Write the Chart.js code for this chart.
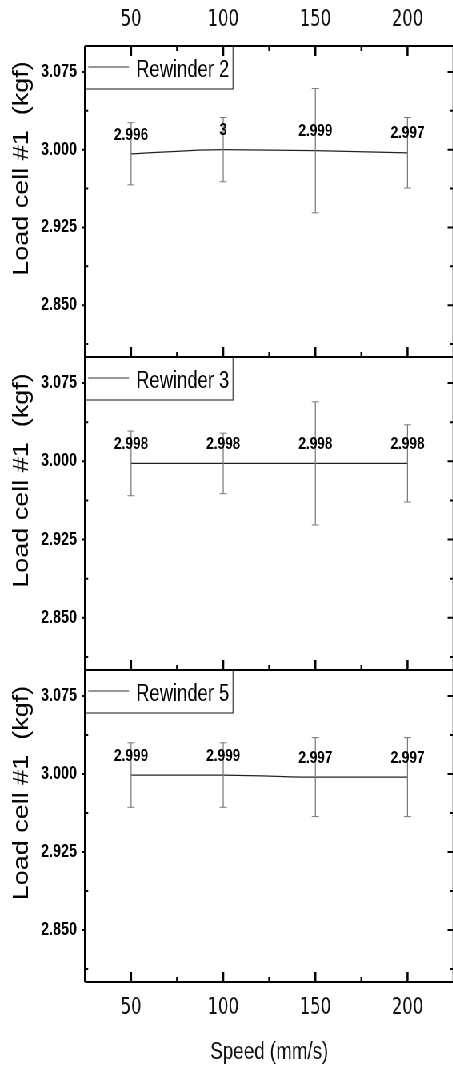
<!DOCTYPE html>
<html>
<head>
<meta charset="utf-8">
<title>Load cell #1 vs speed</title>
<script src="https://cdn.jsdelivr.net/npm/chart.js@4.4.1/dist/chart.umd.min.js"></script>
<style>
  html, body { margin: 0; padding: 0; background: #fff; overflow: hidden; }
  body { width: 453px; height: 1073px; position: relative; }
  /* figure is laid out wide and squeezed horizontally */
  #figure { position: absolute; left: 0; top: 0; width: 572px; height: 1073px; transform: scaleX(0.8); transform-origin: 0 0; }
  .panel { position: absolute; left: 0; width: 572px; }
</style>
</head>
<body>
<div id="figure">
  <div class="panel" style="top:0;height:362px"><canvas id="panel1"></canvas></div>
  <div class="panel" style="top:350px;height:325px"><canvas id="panel2"></canvas></div>
  <div class="panel" style="top:663px;height:410px"><canvas id="panel3"></canvas></div>
</div>
<script>
const speeds = [50, 100, 150, 200];

const rewinder2 = [2.996, 3, 2.999, 2.997];
const rewinder2Err = [0.030, 0.031, 0.060, 0.034];
const rewinder3 = [2.998, 2.998, 2.998, 2.998];
const rewinder3Err = [0.031, 0.029, 0.059, 0.037];
const rewinder5 = [2.999, 2.999, 2.997, 2.997];
const rewinder5Err = [0.031, 0.031, 0.038, 0.038];

const xTicks = [50, 100, 150, 200];
const xMinorTicks = [75, 125, 175];
const yTicks = [2.85, 2.925, 3.0, 3.075];
const yMinorTicks = [2.8125, 2.8875, 2.9625, 3.0375];

const yTitle = "Load cell #1  (kgf)";
const xTitle = "Speed (mm/s)";

const SANS = "'Liberation Sans', Arial, sans-serif";
const NARROW = "'Liberation Sans Narrow', 'DejaVu Sans Condensed', 'Liberation Sans', sans-serif";
Chart.defaults.font.family = SANS;

// error bars, value labels, frame, inward ticks, legend box and y title
const panelDecor = {
    id: "panelDecor",
    afterDatasetsDraw(chart, args, opts) {
        const { ctx } = chart;
        const x = chart.scales.x, y = chart.scales.y;
        const points = chart.data.datasets[0].data;

        ctx.save();
        ctx.strokeStyle = "#7a7a7a";
        points.forEach((pt, i) => {
            const px = x.getPixelForValue(pt.x);
            const top = y.getPixelForValue(pt.y + opts.errors[i]);
            const bot = y.getPixelForValue(pt.y - opts.errors[i]);
            ctx.lineWidth = 1.25;
            ctx.beginPath();
            ctx.moveTo(px, top);
            ctx.lineTo(px, bot);
            ctx.stroke();
            ctx.lineWidth = 1;
            ctx.beginPath();
            ctx.moveTo(px - 4.5, top); ctx.lineTo(px + 4.5, top);
            ctx.moveTo(px - 4.5, bot); ctx.lineTo(px + 4.5, bot);
            ctx.stroke();
        });

        ctx.fillStyle = "#000";
        ctx.font = "bold 17px " + SANS;
        ctx.textAlign = "center";
        ctx.textBaseline = "middle";
        points.forEach(pt => {
            ctx.fillText(String(pt.y), x.getPixelForValue(pt.x), y.getPixelForValue(pt.y) - 19);
        });
        ctx.restore();
    },
    afterDraw(chart, args, opts) {
        const { ctx, chartArea: a } = chart;
        const x = chart.scales.x, y = chart.scales.y;

        ctx.save();

        // legend
        ctx.fillStyle = "#fff";
        ctx.fillRect(a.left, a.top, 185, 43);
        ctx.strokeStyle = "#444";
        ctx.lineWidth = 1.25;
        ctx.strokeRect(a.left, a.top, 185, 43);
        ctx.strokeStyle = "#333";
        ctx.lineWidth = 1;
        ctx.beginPath();
        ctx.moveTo(a.left + 4, a.top + 21);
        ctx.lineTo(a.left + 55, a.top + 21);
        ctx.stroke();
        ctx.fillStyle = "#000";
        ctx.font = "23px " + SANS;
        ctx.textAlign = "left";
        ctx.textBaseline = "alphabetic";
        ctx.fillText(chart.data.datasets[0].label, a.left + 64, a.top + 31);

        // frame
        ctx.strokeStyle = "#000";
        ctx.lineWidth = 2;
        ctx.beginPath();
        ctx.moveTo(a.left, a.top); ctx.lineTo(a.right, a.top);
        ctx.moveTo(a.left, a.bottom); ctx.lineTo(a.right, a.bottom);
        ctx.stroke();
        ctx.lineWidth = 2.5;
        ctx.beginPath();
        ctx.moveTo(a.left, a.top); ctx.lineTo(a.left, a.bottom);
        ctx.moveTo(a.right, a.top); ctx.lineTo(a.right, a.bottom);
        ctx.stroke();

        // x ticks, pointing in
        ctx.beginPath();
        xTicks.forEach(v => {
            const px = x.getPixelForValue(v);
            ctx.moveTo(px, a.bottom); ctx.lineTo(px, a.bottom - 10);
            if (opts.topTicks) { ctx.moveTo(px, a.top); ctx.lineTo(px, a.top + 10); }
        });
        xMinorTicks.forEach(v => {
            const px = x.getPixelForValue(v);
            ctx.moveTo(px, a.bottom); ctx.lineTo(px, a.bottom - 5);
            if (opts.topTicks) { ctx.moveTo(px, a.top); ctx.lineTo(px, a.top + 5); }
        });
        ctx.stroke();

        // y ticks
        ctx.lineWidth = 2;
        ctx.beginPath();
        yTicks.forEach(v => {
            const py = y.getPixelForValue(v);
            ctx.moveTo(a.right, py); ctx.lineTo(a.right - 7.5, py);
            ctx.moveTo(a.left, py); ctx.lineTo(a.left - 4, py);
        });
        yMinorTicks.forEach(v => {
            const py = y.getPixelForValue(v);
            ctx.moveTo(a.right, py); ctx.lineTo(a.right - 4, py);
            ctx.moveTo(a.left, py); ctx.lineTo(a.left + 4, py);
        });
        ctx.stroke();

        // y axis title
        ctx.translate(28, (a.top + a.bottom) / 2 - 33);
        ctx.rotate(-Math.PI / 2);
        ctx.fillStyle = "#000";
        ctx.font = "27px " + SANS;
        ctx.textAlign = "center";
        ctx.textBaseline = "middle";
        ctx.fillText(yTitle, 0, 0);

        ctx.restore();
    }
};

function buildPanel(canvasId, name, values, errors, opts) {
    const points = speeds.map((s, i) => ({ x: s, y: values[i] }));

    const xScale = {
        type: "linear",
        position: opts.xPosition,
        display: opts.showX,
        min: 25,
        max: 225,
        afterBuildTicks: scale => { scale.ticks = xTicks.map(v => ({ value: v })); },
        afterFit: scale => {
            if (opts.xHeight) scale.height = opts.xHeight;
            scale.paddingLeft = 0;
            scale.paddingRight = 0;
            scale.paddingTop = 0;
            scale.paddingBottom = 0;
        },
        grid: { display: false, drawTicks: false },
        border: { display: false },
        ticks: {
            color: "#111",
            font: { family: NARROW, size: 23 },
            padding: 12,
            autoSkip: false,
            maxRotation: 0,
            callback: v => String(v)
        },
        title: {
            display: opts.showXTitle,
            text: xTitle,
            color: "#111",
            font: { family: SANS, size: 23.5 },
            padding: { top: 0, bottom: 6 }
        }
    };

    return new Chart(document.getElementById(canvasId), {
        type: "line",
        data: {
            datasets: [{
                label: name,
                data: points,
                borderColor: "#222",
                borderWidth: 1.2,
                pointRadius: 0,
                cubicInterpolationMode: "monotone",
                fill: false
            }]
        },
        options: {
            responsive: true,
            maintainAspectRatio: false,
            animation: false,
            layout: { autoPadding: false, padding: opts.padding },
            plugins: {
                legend: { display: false },
                tooltip: { enabled: false },
                panelDecor: { errors: errors, topTicks: opts.topTicks }
            },
            scales: {
                x: xScale,
                y: {
                    type: "linear",
                    position: "left",
                    min: 2.8,
                    max: 3.1,
                    afterBuildTicks: scale => { scale.ticks = yTicks.map(v => ({ value: v })); },
                    afterFit: scale => {
                        scale.width = 106.25;
                        scale.paddingTop = 0;
                        scale.paddingBottom = 0;
                        scale.paddingLeft = 0;
                        scale.paddingRight = 0;
                    },
                    grid: { display: false, drawTicks: false },
                    border: { display: false },
                    ticks: {
                        color: "#000",
                        font: { family: SANS, size: 18, weight: "bold" },
                        padding: 10,
                        autoSkip: false,
                        callback: v => v.toFixed(3)
                    }
                }
            }
        },
        plugins: [panelDecor]
    });
}

buildPanel("panel1", "Rewinder 2", rewinder2, rewinder2Err, {
    xPosition: "top", showX: true, showXTitle: false, xHeight: 46, topTicks: true,
    padding: { top: 0, right: 5, bottom: 5, left: 0 }
});
buildPanel("panel2", "Rewinder 3", rewinder3, rewinder3Err, {
    xPosition: "bottom", showX: false, showXTitle: false, xHeight: 0, topTicks: false,
    padding: { top: 7, right: 5, bottom: 5, left: 0 }
});
buildPanel("panel3", "Rewinder 5", rewinder5, rewinder5Err, {
    xPosition: "bottom", showX: true, showXTitle: true, xHeight: 91, topTicks: false,
    padding: { top: 7, right: 5, bottom: 0, left: 0 }
});
</script>
</body>
</html>
